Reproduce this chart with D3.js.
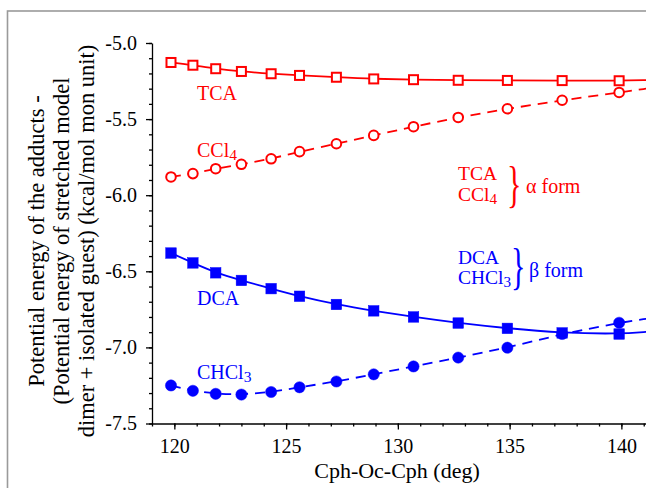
<!DOCTYPE html>
<html>
<head>
<meta charset="utf-8">
<script src="https://cdn.jsdelivr.net/npm/d3@7"></script>
<style>
html,body{margin:0;padding:0;background:#fff;}
svg{display:block;}
</style>
</head>
<body>
<svg id="chart" width="646" height="488"></svg>
<script>
// ---- data ----
const angles = [119.85, 120.83, 121.85, 123.0, 124.33, 125.6, 127.25, 128.92, 130.7, 132.7, 134.9, 137.35, 139.9];
const tca   = [-5.128, -5.146, -5.169, -5.187, -5.202, -5.213, -5.225, -5.236, -5.241, -5.245, -5.246, -5.247, -5.248];
const ccl4  = [-5.880, -5.858, -5.826, -5.797, -5.761, -5.714, -5.662, -5.607, -5.550, -5.489, -5.432, -5.376, -5.325];
const dca   = [-6.380, -6.445, -6.510, -6.560, -6.614, -6.664, -6.718, -6.760, -6.800, -6.840, -6.875, -6.905, -6.912];
const chcl3 = [-7.250, -7.285, -7.305, -7.310, -7.293, -7.262, -7.224, -7.177, -7.125, -7.067, -7.002, -6.912, -6.838];
const fitEndAngle = 141.2;
const fitEndValues = [-5.243, -5.298, -6.897, -6.810]; // tca, ccl4, dca, chcl3
const xMajorTicks = [120, 125, 130, 135, 140];
const yMajorTicks = [-5.0, -5.5, -6.0, -6.5, -7.0, -7.5];

const RED = "#ff0000", BLUE = "#0000ff";
const FONT = '"Liberation Serif", "Times New Roman", Times, serif';

const svg = d3.select("#chart");

// outer frame
svg.append("rect").attr("x", 7.5).attr("y", 11).attr("width", 700).attr("height", 600)
  .attr("fill", "none").attr("stroke", "#9a9a9a").attr("stroke-width", 1.6);

const x = d3.scaleLinear().domain([119, 141.2]).range([152, 648.2]);
const y = d3.scaleLinear().domain([-7.5, -5.0]).range([423.5, 43]);

// axes
const xMinor = d3.range(119, 142, 1);
const yMinor = d3.range(0, 26).map(i => -7.5 + i * 0.1);

svg.append("g").attr("transform", `translate(0,${y(-7.5)})`)
  .call(d3.axisBottom(x).tickValues(xMinor).tickSize(3).tickFormat(""))
  .call(g => g.select(".domain").remove());
const gx = svg.append("g").attr("transform", `translate(0,${y(-7.5)})`)
  .call(d3.axisBottom(x).tickValues(xMajorTicks).tickSize(6).tickSizeOuter(0).tickPadding(9).tickFormat(d => d));
gx.attr("font-family", FONT).attr("font-size", 20);
gx.selectAll("text").attr("fill", "#000");

svg.append("g").attr("transform", `translate(${x(119)},0)`)
  .call(d3.axisLeft(y).tickValues(yMinor).tickSize(3).tickFormat(""))
  .call(g => g.select(".domain").remove());
const gy = svg.append("g").attr("transform", `translate(${x(119)},0)`)
  .call(d3.axisLeft(y).tickValues(yMajorTicks).tickSize(6).tickSizeOuter(0).tickPadding(9).tickFormat(d => d.toFixed(1)));
gy.attr("font-family", FONT).attr("font-size", 20);
gy.selectAll("text").attr("fill", "#000");

svg.selectAll(".domain, .tick line").attr("stroke", "#000").attr("stroke-width", 1.3);

// lines
const series = [
  {vals: tca,   color: RED,  dash: null,   marker: "square", filled: false},
  {vals: ccl4,  color: RED,  dash: "10,7", marker: "circle", filled: false},
  {vals: dca,   color: BLUE, dash: null,   marker: "square", filled: true},
  {vals: chcl3, color: BLUE, dash: "10,7", marker: "circle", filled: true}
];
const line = d3.line().x(d => x(d[0])).y(d => y(d[1])).curve(d3.curveBasis);

series.forEach((s, i) => {
  const pts = angles.map((a, j) => [a, s.vals[j]]);
  pts.push([fitEndAngle, fitEndValues[i]]);
  svg.append("path").datum(pts).attr("d", line)
    .attr("fill", "none").attr("stroke", s.color).attr("stroke-width", 1.8)
    .attr("stroke-dasharray", s.dash);
});

series.forEach(s => {
  const g = svg.append("g");
  const data = angles.map((a, j) => [a, s.vals[j]]);
  if (s.marker === "square") {
    const side = s.filled ? 10.5 : 9;
    g.selectAll("rect").data(data).join("rect")
      .attr("x", d => x(d[0]) - side / 2).attr("y", d => y(d[1]) - side / 2)
      .attr("width", side).attr("height", side)
      .attr("fill", s.filled ? s.color : "#fff")
      .attr("stroke", s.color).attr("stroke-width", s.filled ? 0.5 : 2);
  } else {
    g.selectAll("circle").data(data).join("circle")
      .attr("cx", d => x(d[0])).attr("cy", d => y(d[1]))
      .attr("r", s.filled ? 5.6 : 4.8)
      .attr("fill", s.filled ? s.color : "#fff")
      .attr("stroke", s.color).attr("stroke-width", s.filled ? 0.5 : 2);
  }
});

// in-plot labels
function label(txt, sub, px, py, color, size) {
  const t = svg.append("text").attr("x", px).attr("y", py).attr("fill", color)
    .attr("font-family", FONT).attr("font-size", size || 20);
  t.append("tspan").text(txt);
  if (sub) t.append("tspan").attr("dy", 3).attr("font-size", (size || 20) * 0.78).text(sub);
  return t;
}
label("TCA", null, 197, 100, RED);
label("CCl", "4", 197, 157, RED);
label("DCA", null, 197, 305, BLUE);
label("CHCl", "3", 197, 379, BLUE);

// bracket legend
label("TCA", null, 458, 180, RED, 19.5);
label("CCl", "4", 458, 201, RED, 19.5);
label("DCA", null, 458, 264, BLUE, 19.5);
label("CHCl", "3", 458, 284, BLUE, 19.5);

function brace(px, baseline, color) {
  svg.append("text").attr("transform", `translate(${px},${baseline}) scale(0.6,1)`)
    .attr("font-family", FONT).attr("font-size", 50).attr("fill", color).text("}");
}
brace(507, 201, RED);
brace(511, 283, BLUE);
label("α form", null, 526, 193, RED);
label("β form", null, 529, 277, BLUE);

// axis titles
svg.append("text").attr("x", 397).attr("y", 478).attr("text-anchor", "middle")
  .attr("font-family", FONT).attr("font-size", 22).attr("fill", "#000").text("Cph-Oc-Cph (deg)");

const yTitle = [
  "Potential energy of the adducts -",
  "(Potential energy of stretched model",
  "dimer + isolated guest) (kcal/mol mon unit)"
];
const yt = svg.append("g").attr("transform", "rotate(-90)");
yTitle.forEach((t, i) => {
  yt.append("text").attr("x", -241).attr("y", 44 + i * 25).attr("text-anchor", "middle")
    .attr("font-family", FONT).attr("font-size", 22.5).attr("fill", "#000").text(t);
});
</script>
</body>
</html>
